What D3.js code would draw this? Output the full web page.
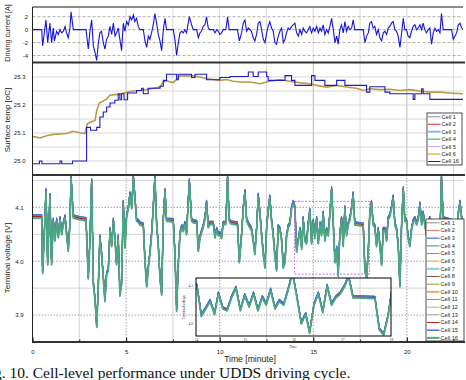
<!DOCTYPE html>
<html>
<head>
<meta charset="utf-8">
<script src="https://cdn.jsdelivr.net/npm/d3@7"></script>
<style>
body { margin: 0; background: #fff; }
svg { display: block; font-family: "Liberation Sans", Arial, sans-serif; }
</style>
</head>
<body>
<svg id="svg" width="466" height="380"></svg>
<script>
// driving current [minute, A]
var currentData = [
[0,0],[0.49,0],[0.54,-2.5],[0.63,-0.5],[0.72,1.5],[0.81,-2],[0.93,1],[1.02,-2],[1.11,0.25],[1.17,-1.75],[1.29,-0.25],[1.38,-0.75],[1.47,0],[1.56,-0.5],[1.65,-0.25],[1.74,0.5],[1.82,-0.5],[1.91,-1.25],[2,0.25],[2.06,2.75],[2.18,0],[2.86,0],[2.93,-1.75],[2.98,-3],[3.07,-0.25],[3.16,1.5],[3.25,-2.5],[3.34,-3.5],[3.43,-4.75],[3.52,-2],[3.6,-0.5],[3.69,-0.25],[3.78,-2],[3.87,-3],[3.96,-1.5],[4.05,-1],[4.14,0.5],[4.23,-0.75],[4.32,1],[4.41,-1],[4.49,-0.5],[4.58,0.25],[4.67,-1.5],[4.76,-3.25],[4.85,1],[4.94,-0.25],[5.03,1.25],[5.12,0.75],[5.21,2],[5.3,1.5],[5.39,2.25],[5.47,1.25],[5.56,1.75],[5.65,0.5],[5.74,0],[5.92,0],[6.01,-1.75],[6.1,-2.75],[6.19,-1],[6.27,-1.5],[6.36,-0.5],[6.45,0.75],[6.54,2.5],[6.63,1],[6.72,-0.75],[6.81,-1.75],[6.9,-3.25],[6.99,0],[7.08,1.75],[7.16,0],[7.52,0],[7.61,-1.5],[7.7,-4],[7.79,-2],[7.88,-0.5],[7.97,-0.25],[8.06,-0.5],[8.14,0],[8.23,-0.5],[8.38,2],[8.5,0.75],[8.59,0],[8.77,0],[8.86,-1.25],[8.95,-0.5],[9.03,-0.25],[9.12,0.5],[9.21,0.75],[9.3,2],[9.39,0.25],[9.48,0],[9.66,0],[9.75,-0.5],[9.84,0],[9.93,-0.25],[10.01,-0.75],[10.1,-0.5],[10.19,0],[10.33,0],[10.42,2],[10.51,0],[10.95,0],[11.05,-1.75],[11.17,-0.5],[11.26,1],[11.35,1.5],[11.44,-0.25],[11.53,0.25],[11.7,-0.25],[11.79,-1.25],[11.88,-1.75],[11.97,-0.75],[12.06,1],[12.15,1.25],[12.24,0],[12.33,-1.5],[12.42,-2],[12.51,-0.5],[12.59,0.5],[12.68,1.25],[12.77,0.25],[12.86,-0.25],[12.95,-2],[13.04,-2.25],[13.13,-1],[13.22,-0.25],[13.31,0.25],[13.4,-2],[13.49,-1.5],[13.57,-0.5],[13.66,0.25],[13.75,0],[13.84,0.5],[13.93,0.75],[14.02,1],[14.11,-0.5],[14.2,-1],[14.29,0],[14.38,-0.75],[14.46,0.25],[14.55,-0.25],[14.64,-0.5],[14.73,0],[14.82,0.5],[14.91,-0.5],[15,0.25],[15.09,-0.25],[15.18,0.5],[15.27,-0.5],[15.36,0.25],[15.44,-0.25],[15.53,0.75],[15.62,-0.75],[15.71,0],[15.8,-0.5],[15.89,0.5],[15.98,1.75],[16.07,0],[16.16,-2],[16.25,-1],[16.33,-2.25],[16.42,0],[16.51,0.75],[16.6,-0.5],[16.69,1.25],[16.78,-0.25],[16.87,0.5],[16.96,0],[17.05,0.25],[17.13,1.5],[17.22,0],[17.67,0],[17.76,-2],[17.85,-1],[17.94,-0.5],[18.02,1],[18.11,1.25],[18.2,0.25],[18.29,0.5],[18.38,-0.75],[18.47,0],[18.56,-1.25],[18.65,-1.75],[18.74,-0.5],[18.83,-0.25],[18.92,-0.75],[19,0.25],[19.09,0.5],[19.18,1],[19.27,1.25],[19.36,0],[19.45,-0.25],[19.54,-1],[19.63,-2.75],[19.72,-0.5],[19.81,1.75],[19.89,0],[19.98,0],[20.07,-1],[20.16,-1.25],[20.25,-0.25],[20.34,0.5],[20.43,0.75],[20.52,0],[20.61,0.25],[20.7,0.75],[20.79,0],[20.87,1],[20.96,0],[21.05,-0.5],[21.14,0],[21.23,0.25],[21.32,-2.25],[21.41,-0.5],[21.5,0.25],[21.59,-0.25],[21.68,0],[21.77,-0.5],[21.85,2.5],[21.94,0],[22.39,0],[22.48,-1.5],[22.57,-1],[22.66,-0.5],[22.75,0.75],[22.84,1],[22.93,0.25],[23,0]
];

// surface temperature [minute, oC]
var tempCell6 = [
[0,25.088],[0.4,25.082],[0.76,25.09],[1.11,25.095],[1.47,25.097],[1.82,25.098],[2.18,25.106],[2.53,25.101],[2.8,25.098],[2.93,25.133],[3.16,25.14],[3.34,25.145],[3.43,25.18],[3.57,25.207],[3.78,25.214],[3.96,25.222],[4.14,25.235],[4.41,25.237],[4.67,25.238],[4.94,25.244],[5.3,25.249],[5.74,25.252],[6.1,25.255],[6.45,25.26],[6.81,25.264],[6.99,25.282],[7.16,25.286],[7.52,25.28],[7.88,25.304],[8.23,25.305],[8.59,25.304],[8.95,25.3],[9.3,25.294],[9.66,25.291],[10.01,25.288],[10.37,25.291],[10.72,25.285],[11.08,25.282],[11.61,25.282],[12.15,25.276],[12.68,25.285],[13.22,25.29],[13.75,25.285],[14.29,25.279],[14.82,25.276],[15.18,25.27],[15.71,25.264],[16.25,25.27],[16.78,25.264],[17.31,25.26],[17.67,25.252],[18.02,25.258],[18.56,25.255],[19.09,25.256],[19.63,25.252],[20.16,25.255],[20.7,25.25],[21.23,25.246],[21.77,25.246],[22.3,25.243],[23,25.24]
];
var tempCell16 = [
[0,24.99],[0.37,25.0],[0.5,24.99],[1.47,25.0],[1.56,24.99],[2.14,25.0],[2.89,25.12],[3.1,25.11],[3.43,25.12],[3.6,25.157],[3.78,25.175],[3.96,25.193],[4.14,25.207],[4.4,25.217],[4.58,25.24],[4.67,25.219],[4.76,25.24],[4.89,25.219],[5.08,25.243],[5.56,25.252],[5.83,25.26],[5.92,25.24],[6.18,25.26],[6.81,25.267],[6.99,25.288],[7.16,25.31],[7.7,25.29],[7.79,25.31],[8.5,25.298],[8.68,25.31],[9.3,25.29],[10.01,25.298],[10.55,25.302],[11.53,25.318],[11.79,25.302],[12.06,25.318],[12.51,25.302],[12.59,25.288],[13.49,25.305],[13.84,25.288],[14.02,25.27],[14.91,25.305],[15.09,25.288],[15.62,25.27],[16.25,25.288],[16.69,25.27],[17.85,25.246],[18.02,25.265],[18.83,25.246],[19.09,25.24],[20.34,25.22],[20.43,25.24],[20.79,25.258],[20.87,25.24],[21.23,25.22],[23,25.22]
];

// terminal voltage [minute, V]
var voltData = [
[0,4.083],[0.49,4.083],[0.54,3.98],[0.63,4.05],[0.72,4.132],[0.81,3.996],[0.93,4.123],[1.02,3.996],[1.11,4.077],[1.2,4.04],[1.29,4.077],[1.38,4.046],[1.47,4.08],[1.56,4.052],[1.65,4.071],[1.74,4.083],[1.82,4.052],[1.91,4.021],[2,4.07],[2.06,4.157],[2.18,4.083],[2.5,4.08],[2.86,4.078],[2.93,4.015],[2.98,3.97],[3.07,4.04],[3.16,4.15],[3.25,3.96],[3.34,3.93],[3.43,3.88],[3.52,3.96],[3.6,4.046],[3.69,4.015],[3.78,3.972],[3.87,3.928],[3.96,3.978],[4.05,3.984],[4.14,4.06],[4.23,4.03],[4.32,4.077],[4.41,4.04],[4.49,3.996],[4.58,4.046],[4.67,3.938],[4.76,3.96],[4.85,4.11],[4.94,4.027],[5.03,4.085],[5.12,4.1],[5.21,4.126],[5.3,4.1],[5.39,4.157],[5.47,4.12],[5.56,4.077],[5.65,4.075],[5.74,4.07],[5.92,4.068],[6.01,4.0],[6.1,3.955],[6.19,3.99],[6.27,4.015],[6.36,4.05],[6.45,4.1],[6.54,4.157],[6.63,4.071],[6.72,4.03],[6.81,3.97],[6.9,3.94],[6.99,4.08],[7.08,4.132],[7.16,4.077],[7.52,4.076],[7.61,4.015],[7.7,3.91],[7.79,3.996],[7.88,4.052],[7.97,4.065],[8.06,4.058],[8.14,4.071],[8.23,4.052],[8.38,4.15],[8.5,4.077],[8.59,4.074],[8.77,4.073],[8.86,4.021],[8.95,4.046],[9.03,4.055],[9.12,4.065],[9.21,4.08],[9.3,4.11],[9.39,4.065],[9.48,4.071],[9.66,4.071],[9.75,4.046],[9.84,4.06],[9.93,4.05],[10.01,4.052],[10.1,4.045],[10.19,4.071],[10.33,4.071],[10.42,4.157],[10.51,4.077],[10.6,4.072],[10.95,4.07],[11.05,4.0],[11.17,4.05],[11.26,4.1],[11.35,4.13],[11.44,4.077],[11.53,4.07],[11.7,4.06],[11.79,4.04],[11.88,4.015],[11.97,4.06],[12.06,4.123],[12.15,4.09],[12.24,4.05],[12.33,4.015],[12.42,3.99],[12.51,4.065],[12.59,4.095],[12.68,4.12],[12.77,4.077],[12.86,4.05],[12.95,4.01],[13.04,3.985],[13.13,4.065],[13.22,4.06],[13.31,4.04],[13.4,3.99],[13.49,4.0],[13.57,4.046],[13.66,4.065],[13.75,4.07],[13.84,4.1],[13.93,4.11],[14.02,4.1],[14.11,4.02],[14.2,4.04],[14.29,4.06],[14.38,4.025],[14.46,4.08],[14.55,4.04],[14.64,4.035],[14.73,4.07],[14.82,4.095],[14.91,4.035],[15,4.075],[15.09,4.045],[15.18,4.08],[15.27,4.035],[15.36,4.07],[15.44,4.05],[15.53,4.09],[15.62,4.04],[15.71,4.06],[15.8,4.05],[15.89,4.09],[15.98,4.135],[16.07,4.07],[16.16,4.0],[16.25,4.025],[16.33,3.975],[16.42,4.05],[16.51,4.08],[16.6,4.03],[16.69,4.1],[16.78,4.05],[16.87,4.07],[16.96,4.08],[17.05,4.1],[17.13,4.126],[17.22,4.07],[17.67,4.068],[17.76,3.984],[17.85,3.97],[17.94,4.02],[18.02,4.09],[18.11,4.11],[18.2,4.07],[18.29,4.065],[18.38,4.03],[18.47,4.06],[18.56,4.03],[18.65,3.995],[18.74,4.06],[18.83,4.06],[18.92,4.04],[19,4.08],[19.09,4.085],[19.18,4.1],[19.27,4.12],[19.36,4.07],[19.45,4.06],[19.54,4.03],[19.63,3.955],[19.72,4.07],[19.81,4.135],[19.89,4.077],[19.98,4.076],[20.07,4.045],[20.16,4.03],[20.25,4.06],[20.34,4.075],[20.43,4.08],[20.52,4.07],[20.61,4.08],[20.7,4.107],[20.79,4.07],[20.87,4.09],[20.96,4.07],[21.05,4.05],[21.14,4.07],[21.23,4.08],[21.32,3.99],[21.41,4.05],[21.5,4.07],[21.59,4.06],[21.68,4.07],[21.77,4.05],[21.85,4.157],[21.94,4.08],[22.39,4.075],[22.48,4.02],[22.57,4.04],[22.66,4.055],[22.75,4.09],[22.84,4.11],[22.93,4.08],[23,4.078]
];
// per-cell deviation from the pack trace [V], read at rest periods
var cellDelta = [0.001, 0.0005, 0.003, -0.002, 0.0005, 0.0, -0.001, 0.0005, 0.0, -0.0005, 0.002, -0.001, 0.001, 0.0, 0.003, -0.003];

var tempCells = ["Cell 1", "Cell 2", "Cell 3", "Cell 4", "Cell 5", "Cell 6", "Cell 16"];
var tempColors = ["#8c8c8c", "#d42a2a", "#86b6ee", "#2e9e62", "#c6a4e6", "#d4a62a", "#1c1cc4"];
var tempWidths = [1, 1, 2, 1, 1, 1.2, 1];

var voltCells = ["Cell 1", "Cell 2", "Cell 3", "Cell 4", "Cell 5", "Cell 6", "Cell 7", "Cell 8",
                 "Cell 9", "Cell 10", "Cell 11", "Cell 12", "Cell 13", "Cell 14", "Cell 15", "Cell 16"];
var voltColors = ["#8a8a8a", "#e57a6a", "#1f5faa", "#72c4a2", "#9a72d6", "#d6a822", "#7fd6d6", "#8e4a4a",
                  "#9c9c2c", "#f2a868", "#6a96d6", "#a6c466", "#9a9a9a", "#b82020", "#3e6ee0", "#4aa884"];
var voltWidths = [1, 1, 1, 1.6, 1, 1, 2, 1, 1, 2, 1, 1, 1, 1, 1.4, 2];

var currentTicks = [-4, -2, 0, 2];
var tempTicks = [25.0, 25.1, 25.2, 25.3];
var voltTicks = [3.9, 4.0, 4.1];
var timeTicks = [0, 5, 10, 15, 20];
var zoomTicks = [14, 15, 16, 17, 18];

var svg = d3.select("#svg");
var L = 32.5, R = 463;

var x = d3.scaleLinear().domain([0, 23]).range([L, R]);
var yI = d3.scaleLinear().domain([-5, 3.5]).range([62, 7]);
var yT = d3.scaleLinear().domain([24.95, 25.35]).range([175, 63]);
var yV = d3.scaleLinear().domain([3.85, 4.16]).range([342, 175]);
var xi = d3.scaleLinear().domain([14, 18]).range([196, 391]);
var yi = d3.scaleLinear().domain([3.965, 4.12]).range([336, 278]);

var minors = d3.range(2.5, 23, 5), majors = d3.range(5, 23, 5);

var defs = svg.append("defs");
function clip(id, x0, y0, x1, y1) {
  defs.append("clipPath").attr("id", id).append("rect")
      .attr("x", x0).attr("y", y0).attr("width", x1 - x0).attr("height", y1 - y0);
}
clip("cI", L, 7, R, 62);
clip("cT", L, 63, R, 175);
clip("cV", L, 175, R, 342);
clip("cInset", 196, 278, 391, 336);

function vlines(g, vals, y0, y1, color, dash) {
  g.selectAll(null).data(vals).enter().append("line")
      .attr("x1", function(d) { return x(d); }).attr("x2", function(d) { return x(d); })
      .attr("y1", y0).attr("y2", y1)
      .attr("stroke", color).attr("stroke-width", 0.8)
      .attr("stroke-dasharray", dash);
}
function hlines(g, vals, y, color, dash) {
  g.selectAll(null).data(vals).enter().append("line")
      .attr("x1", L).attr("x2", R)
      .attr("y1", function(d) { return y(d); }).attr("y2", function(d) { return y(d); })
      .attr("stroke", color).attr("stroke-width", 0.8)
      .attr("stroke-dasharray", dash);
}

// ---- grids
var gI = svg.append("g");
vlines(gI, d3.range(2.5, 23, 2.5), 7, 62, "#cfcfcf", null);
hlines(gI, currentTicks, yI, "#9a9a9a", "3,2");

var gT = svg.append("g");
vlines(gT, minors, 63, 175, "#d2d2d2", null);
vlines(gT, majors, 63, 175, "#a8a8a8", null);
hlines(gT, d3.range(25.0, 25.34, 0.05), yT, "#cdcdcd", null);

function voltGrid(g) {
  vlines(g, minors, 175, 342, "#c8c8c8", null);
  vlines(g, majors, 175, 342, "#8a8a8a", "1.5,1.5");
  hlines(g, [3.95, 4.05, 4.15], yV, "#c8c8c8", null);
  hlines(g, voltTicks, yV, "#8a8a8a", "1.5,1.5");
}
voltGrid(svg.append("g"));

// ---- current
var lineI = d3.line().x(function(d) { return x(d[0]); }).y(function(d) { return yI(d[1]); });
svg.append("path")
    .datum(currentData)
    .attr("clip-path", "url(#cI)")
    .attr("fill", "none")
    .attr("stroke", "#1414dc")
    .attr("stroke-width", 1.1)
    .attr("d", lineI);

// ---- temperature
var lineT = d3.line().x(function(d) { return x(d[0]); }).y(function(d) { return yT(d[1]); });
var lineTs = d3.line().curve(d3.curveStepAfter).x(function(d) { return x(d[0]); }).y(function(d) { return yT(d[1]); });
svg.append("path")
    .datum(tempCell6)
    .attr("clip-path", "url(#cT)")
    .attr("fill", "none")
    .attr("stroke", "#b89a48")
    .attr("stroke-width", 1.6)
    .attr("d", lineT);
svg.append("path")
    .datum(tempCell16)
    .attr("clip-path", "url(#cT)")
    .attr("fill", "none")
    .attr("stroke", "#1c1cc4")
    .attr("stroke-width", 1.1)
    .attr("d", lineTs);

// ---- voltage, all cells
function drawCells(g, xs, ys) {
  cellDelta.forEach(function(dv, i) {
    g.append("path")
        .datum(voltData)
        .attr("fill", "none")
        .attr("stroke", voltColors[i])
        .attr("stroke-width", i == 15 ? 1.7 : (i == 3 ? 1.4 : 1.1))
        .attr("stroke-linejoin", "round")
        .attr("d", d3.line().x(function(d) { return xs(d[0]); }).y(function(d) { return ys(d[1] + dv); }));
  });
}
drawCells(svg.append("g").attr("clip-path", "url(#cV)"), x, yV);

// zoom box
svg.append("rect")
    .attr("x", x(14)).attr("y", yV(4.111))
    .attr("width", x(18) - x(14)).attr("height", yV(3.976) - yV(4.111))
    .attr("fill", "none")
    .attr("stroke", "#c45ae0")
    .attr("stroke-width", 0.9)
    .attr("stroke-dasharray", "2,1.5");

// ---- inset
svg.append("rect")
    .attr("x", 196).attr("y", 278).attr("width", 195).attr("height", 58)
    .attr("fill", "#fff");
voltGrid(svg.append("g").attr("clip-path", "url(#cInset)"));
drawCells(svg.append("g").attr("clip-path", "url(#cInset)"), xi, yi);
svg.append("rect")
    .attr("x", 196).attr("y", 278).attr("width", 195).attr("height", 58)
    .attr("fill", "none").attr("stroke", "#000").attr("stroke-width", 1);

var inAxX = svg.append("g").attr("transform", "translate(0,336)")
    .call(d3.axisBottom(xi).tickValues(zoomTicks).tickSize(0).tickPadding(2).tickFormat(function(d) { return d; }));
inAxX.select(".domain").remove();
inAxX.selectAll("text").attr("font-size", 3.6).attr("fill", "#333").attr("font-family", "Liberation Serif");
var inAxY = svg.append("g").attr("transform", "translate(196,0)")
    .call(d3.axisLeft(yi).tickValues([4.0, 4.1]).tickSize(0).tickPadding(3).tickFormat(d3.format(".1f")));
inAxY.select(".domain").remove();
inAxY.selectAll("text").attr("font-size", 3.6).attr("fill", "#333").attr("font-family", "Liberation Serif");
svg.append("text").attr("x", 293).attr("y", 348).attr("text-anchor", "middle")
    .attr("font-size", 3.6).attr("fill", "#333").attr("font-family", "Liberation Serif").text("Time");
svg.append("text").attr("transform", "translate(185,307) rotate(-90)").attr("text-anchor", "middle")
    .attr("font-size", 3.6).attr("fill", "#333").attr("font-family", "Liberation Serif").text("Terminal voltage");

// ---- frames
svg.append("line").attr("x1", L).attr("x2", R).attr("y1", 7).attr("y2", 7).attr("stroke", "#666").attr("stroke-width", 1.3);
[62.5, 175, 342].forEach(function(yy) {
  svg.append("line").attr("x1", L).attr("x2", R + 2).attr("y1", yy).attr("y2", yy)
      .attr("stroke", "#333").attr("stroke-width", 2);
});
svg.append("line").attr("x1", L).attr("x2", L).attr("y1", 7).attr("y2", 343).attr("stroke", "#222").attr("stroke-width", 1);

// ---- legends
function legend(names, colors, widths, x0, y0, x1, y1, step) {
  var g = svg.append("g");
  g.append("rect").attr("x", x0).attr("y", y0).attr("width", x1 - x0).attr("height", y1 - y0)
      .attr("fill", "#fff").attr("stroke", "#222").attr("stroke-width", 0.8);
  var row = g.selectAll(null).data(names).enter().append("g")
      .attr("transform", function(d, i) { return "translate(0," + (y0 + 3.8 + i * step) + ")"; });
  row.append("line").attr("x1", x0 + 1).attr("x2", x0 + 13.5)
      .attr("stroke", function(d, i) { return colors[i]; })
      .attr("stroke-width", function(d, i) { return widths[i]; });
  row.append("text").attr("x", x0 + 14.5).attr("dy", "0.35em")
      .attr("font-size", 5.6).attr("fill", "#222").text(function(d) { return d; });
}
legend(tempCells, tempColors, tempWidths, 427, 113, 462, 165, 7.45);
legend(voltCells, voltColors, voltWidths, 426, 219, 464, 341, 7.67);

// ---- axes
function styleAxis(g) {
  g.select(".domain").remove();
  g.selectAll("text").attr("font-size", 6).attr("fill", "#222");
}
styleAxis(svg.append("g").attr("transform", "translate(" + L + ",0)")
    .call(d3.axisLeft(yI).tickValues(currentTicks).tickSize(0).tickPadding(4.5).tickFormat(function(d) { return String(d); })));
styleAxis(svg.append("g").attr("transform", "translate(" + L + ",0)")
    .call(d3.axisLeft(yT).tickValues(tempTicks).tickSize(0).tickPadding(7).tickFormat(d3.format(".1f"))));
styleAxis(svg.append("g").attr("transform", "translate(" + L + ",0)")
    .call(d3.axisLeft(yV).tickValues(voltTicks).tickSize(0).tickPadding(9).tickFormat(d3.format(".1f"))));

var ax = svg.append("g").attr("transform", "translate(0,342)")
    .call(d3.axisBottom(x).tickValues(timeTicks).tickSize(-4.5).tickPadding(8).tickFormat(function(d) { return d; }));
styleAxis(ax);
ax.selectAll("line").attr("stroke", "#222").attr("stroke-width", 1.2);
svg.append("g").attr("transform", "translate(0,342)")
    .call(d3.axisBottom(x).tickValues(minors).tickSize(-2.5).tickFormat(""))
  .call(function(g) { g.select(".domain").remove(); g.selectAll("line").attr("stroke", "#222"); });

// ---- titles
svg.append("text").attr("transform", "translate(10,33) rotate(-90)").attr("text-anchor", "middle")
    .attr("font-size", 7.2).attr("fill", "#222").text("Driving current [A]");
svg.append("text").attr("transform", "translate(10,120) rotate(-90)").attr("text-anchor", "middle")
    .attr("font-size", 8).attr("fill", "#222").text("Surface temp [oC]");
svg.append("text").attr("transform", "translate(10,258) rotate(-90)").attr("text-anchor", "middle")
    .attr("font-size", 8).attr("fill", "#222").text("Terminal voltage [V]");
svg.append("text").attr("x", 250).attr("y", 361.5).attr("text-anchor", "middle")
    .attr("font-size", 8.6).attr("fill", "#222").text("Time [minute]");

svg.append("text").attr("x", -19).attr("y", 377.5)
    .attr("font-family", "Liberation Serif").attr("font-size", 15.5).attr("fill", "#111")
    .text("Fig. 10. Cell-level performance under UDDS driving cycle.");
</script>
</body>
</html>
